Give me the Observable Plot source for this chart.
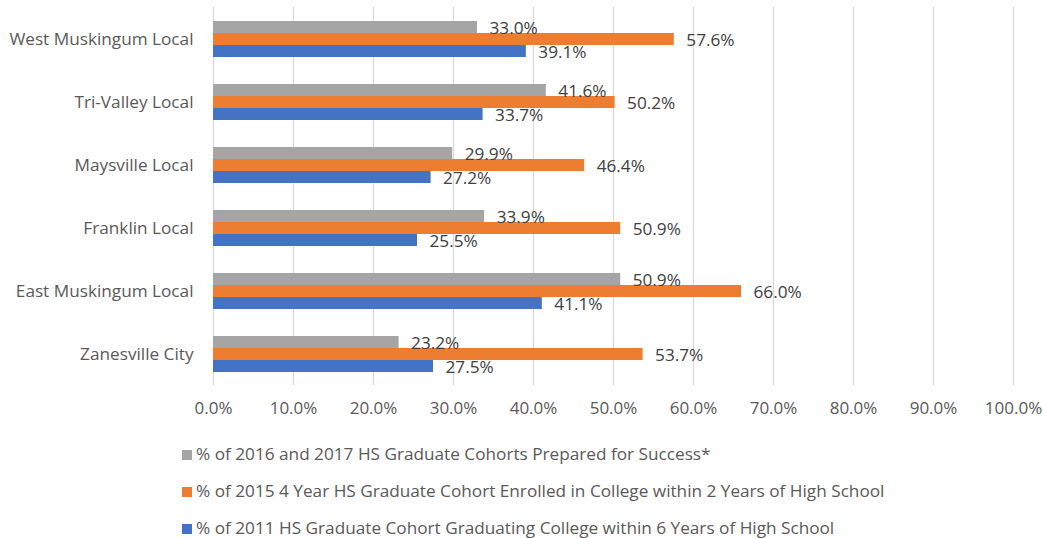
<!DOCTYPE html>
<html>
<head>
<meta charset="utf-8">
<script src="https://cdn.jsdelivr.net/npm/d3@7"></script>
<script src="https://cdn.jsdelivr.net/npm/@observablehq/plot@0.6"></script>
<style>
  body { margin: 0; background: #fff; }
  #wrap { position: relative; width: 1043px; height: 538px; font-family: "Open Sans", sans-serif; }
  #legend { position: absolute; left: 182px; top: 440px; }
  .item { position: absolute; left: 0; white-space: nowrap; font-size: 17.2px; color: #595959; line-height: 22px; }
  .sw { display: inline-block; width: 10px; height: 10px; margin-right: 4px; vertical-align: 0px; }
</style>
</head>
<body>
<div id="wrap"><div id="chart"></div><div id="legend"></div></div>
<script>
const districts = ["West Muskingum Local", "Tri-Valley Local", "Maysville Local", "Franklin Local", "East Muskingum Local", "Zanesville City"];
const seriesNames = [
  "% of 2016 and 2017 HS Graduate Cohorts Prepared for Success*",
  "% of 2015 4 Year HS Graduate Cohort Enrolled in College within 2 Years of High School",
  "% of 2011 HS Graduate Cohort Graduating College within 6 Years of High School"
];
const preparedValues = [33.0, 41.6, 29.9, 33.9, 50.9, 23.2];
const enrolledValues = [57.6, 50.2, 46.4, 50.9, 66.0, 53.7];
const graduatedValues = [39.1, 33.7, 27.2, 25.5, 41.1, 27.5];
const seriesColors = ["#A5A5A5", "#ED7D31", "#4472C4"];
const xTicks = [0, 10, 20, 30, 40, 50, 60, 70, 80, 90, 100];

const seriesValues = [preparedValues, enrolledValues, graduatedValues];
const data = districts.flatMap((d, i) => seriesNames.map((s, j) => ({district: d, series: s, value: seriesValues[j][i]})));

const chart = Plot.plot({
  width: 1043,
  height: 430,
  marginLeft: 213,
  marginRight: 30,
  marginTop: 7,
  marginBottom: 45,
  style: {fontFamily: "Open Sans, sans-serif", color: "#595959", background: "transparent"},
  x: {domain: [0, 100], axis: null, label: null},
  fy: {domain: districts, padding: 0, axis: null, label: null},
  y: {domain: seriesNames, paddingInner: 0, paddingOuter: 0.94, axis: null},
  color: {domain: seriesNames, range: seriesColors},
  marks: [
    Plot.ruleX(xTicks, {x: d => d, stroke: "#d9d9d9", strokeWidth: 1.3}),
    Plot.barX(data, {x: "value", y: "series", fy: "district", fill: "series"}),
    Plot.text(data, {x: "value", y: "series", fy: "district", text: d => d.value.toFixed(1) + "%", textAnchor: "start", dx: 12, dy: 1, fill: "#404040", fontSize: 17.2}),
    Plot.axisX({ticks: xTicks, anchor: "bottom", tickSize: 0, tickPadding: 16, tickFormat: d => d.toFixed(1) + "%", fontSize: 17, color: "#595959", label: null}),
    Plot.axisFy({anchor: "left", tickSize: 0, tickPadding: 20, fontSize: 17.2, color: "#595959", label: null})
  ]
});
document.getElementById("chart").appendChild(chart);

const legend = document.getElementById("legend");
const rowTops = [3, 40, 77];
seriesNames.forEach((s, i) => {
  const div = document.createElement("div");
  div.className = "item";
  div.style.top = rowTops[i] + "px";
  div.innerHTML = `<span class="sw" style="background:${seriesColors[i]}"></span>${s}`;
  legend.appendChild(div);
});
</script>
</body>
</html>
